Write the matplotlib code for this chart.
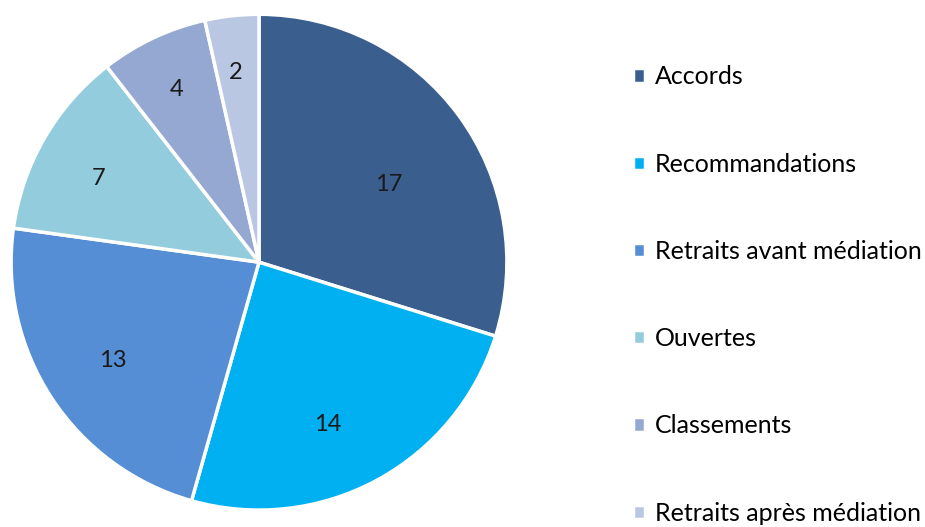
import matplotlib
matplotlib.use('Agg')
import numpy as np
from matplotlib import pyplot as plt

labels = ['Accords', 'Recommandations', 'Retraits avant médiation',
          'Ouvertes', 'Classements', 'Retraits après médiation']
values = [17, 14, 13, 7, 4, 2]
colors = ['#3A5F8E', '#00B0F0', '#558ED5', '#93CDDD', '#95A8D1', '#B9C7E2']
# placement of each value label (fraction of radius, angle tweak in degrees), like Excel's best fit
label_dist = [0.61, 0.71, 0.71, 0.73, 0.77, 0.77]
label_turn = [-5.5, -5.4, 0.7, 2.4, 0.3, 0.6]

plt.rcParams['font.family'] = ['Lato', 'DejaVu Sans']

fig = plt.figure(figsize=(9.25, 5.27), dpi=100)
ax = fig.add_axes([0.012, 0.032, 0.536, 0.941])

wedges, texts, autotexts = ax.pie(
    values, colors=colors, startangle=90, counterclock=False,
    autopct=lambda p: f'{p * sum(values) / 100:.0f}', pctdistance=0.6,
    wedgeprops=dict(edgecolor='white', linewidth=2.5),
    textprops=dict(fontsize=17, color='#1a1a1a'))

for w, t, d, turn in zip(wedges, autotexts, label_dist, label_turn):
    ang = np.deg2rad((w.theta1 + w.theta2) / 2 + turn)
    t.set_position((d * np.cos(ang), d * np.sin(ang)))

ax.set_aspect('equal')
ax.set_xlim(-1, 1)
ax.set_ylim(-1, 1)

fig.legend(wedges, labels, loc='center left', bbox_to_anchor=(0.684, 0.440),
           frameon=False, fontsize=18, handlelength=0.5, handleheight=0.5,
           handletextpad=0.4, labelspacing=2.57, borderpad=0, borderaxespad=0)

fig.savefig('out.png', dpi=100)
